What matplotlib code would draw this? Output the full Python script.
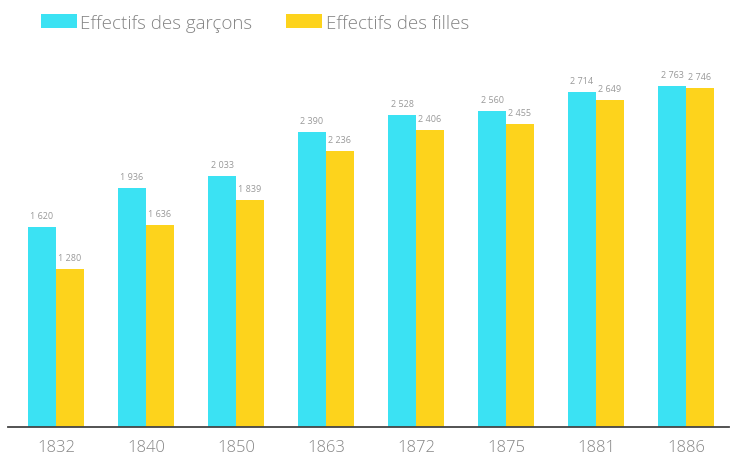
import matplotlib.pyplot as plt
import numpy as np

years = ['1832', '1840', '1850', '1863', '1872', '1875', '1881', '1886']
garcons = [1620, 1936, 2033, 2390, 2528, 2560, 2714, 2763]
filles = [1280, 1636, 1839, 2236, 2406, 2455, 2649, 2746]

cyan = '#3BE2F3'
yellow = '#FDD31C'
grey = '#858585'

plt.rcParams['font.family'] = ['Open Sans', 'DejaVu Sans']

fig = plt.figure(figsize=(7.31, 4.60), dpi=100)
ax = fig.add_axes([8 / 731, 32 / 460, 721 / 731, 378 / 460])

x = np.arange(len(years))
w = 0.31
b1 = ax.bar(x - w / 2, garcons, width=w, color=cyan, label='Effectifs des garçons')
b2 = ax.bar(x + w / 2, filles, width=w, color=yellow, label='Effectifs des filles')

def fmt(v):
    return '{:,}'.format(v).replace(',', ' ')

for bars, vals in ((b1, garcons), (b2, filles)):
    for r, v in zip(bars, vals):
        ax.text(r.get_x() + r.get_width() / 2, v + 60, fmt(v),
                ha='center', va='bottom', fontsize=6.5, color='#999999')

ax.set_xlim(-0.533, 7.478)
ax.set_ylim(0, 3063)
ax.set_xticks(x)
ax.set_xticklabels(years, fontsize=12, color=grey, fontweight='light')
ax.tick_params(axis='x', length=0, pad=9)
ax.set_yticks([])
for s in ('top', 'right', 'left'):
    ax.spines[s].set_visible(False)
ax.spines['bottom'].set_color('#444444')
ax.spines['bottom'].set_linewidth(1.3)

fig.legend(handles=[b1, b2], loc='upper left', bbox_to_anchor=(24 / 731, 1.005),
           ncol=2, frameon=False, prop={'size': 13.5, 'weight': 'light'},
           labelcolor=grey, handlelength=1.9, handleheight=0.75,
           handletextpad=0.2, columnspacing=1.8)

fig.savefig('out.png', dpi=100)
